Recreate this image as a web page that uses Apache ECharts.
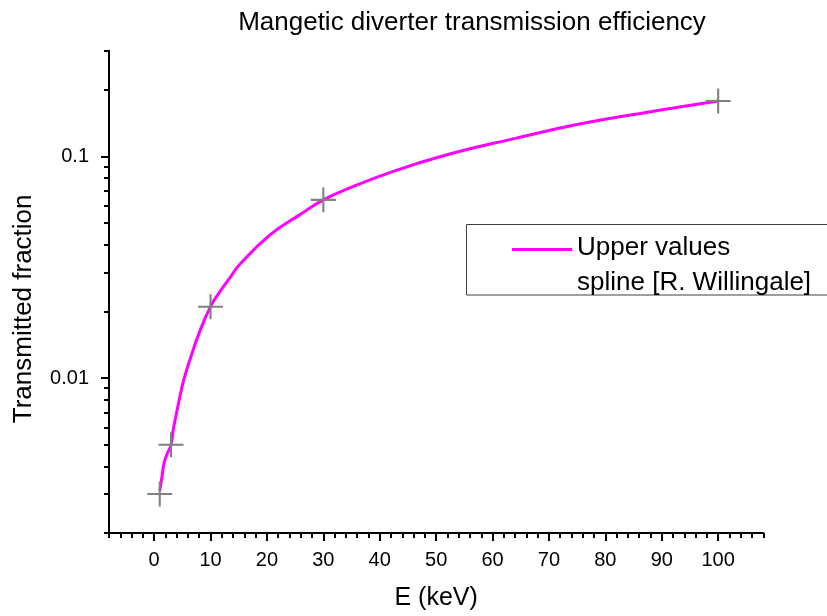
<!DOCTYPE html>
<html>
<head>
<meta charset="utf-8">
<script src="https://cdn.jsdelivr.net/npm/echarts@6/dist/echarts.min.js"></script>
<style>html,body{margin:0;padding:0;background:#fff}#c{width:827px;height:616px}</style>
</head>
<body>
<div id="c"></div>
<script>
// measured points (E in keV, transmitted fraction)
const pointsE = [1, 3, 10, 30, 100];
const pointsT = [0.0030, 0.0050, 0.021, 0.0637, 0.178];
// spline curve
const splineE = [1, 1.4, 1.83, 2.4, 3, 3.42, 4, 4.6, 5.2, 6.4, 8, 10, 11.7, 13.5, 15.2, 20.5, 25.8, 30, 34.7, 42.4, 52.4, 64.2, 75.4, 87.2, 100];
const splineT = [0.0031, 0.0036, 0.0042, 0.0046, 0.0050, 0.0059, 0.0070, 0.0083, 0.0097, 0.0122, 0.0160, 0.021, 0.0246, 0.0285, 0.0326, 0.0442, 0.0545, 0.0637, 0.0721, 0.0857, 0.1025, 0.121, 0.140, 0.158, 0.178];
// ticks
const xMajorTicks = [0, 10, 20, 30, 40, 50, 60, 70, 80, 90, 100];
const xMinorTicks = [-8,-6,-4,-2,0,2,4,6,8,10,12,14,16,18,20,22,24,26,28,30,32,34,36,38,40,42,44,46,48,50,52,54,56,58,60,62,64,66,68,70,72,74,76,78,80,82,84,86,88,90,92,94,96,98,100,102,104,106,108];
const yMajorTicks = [0.01, 0.1];
const yMinorTicks = [0.002,0.003,0.004,0.005,0.006,0.007,0.008,0.009,0.02,0.03,0.04,0.05,0.06,0.07,0.08,0.09,0.2,0.3];
const yLabels = ['0.01', '0.1'];

const FONT = 'Liberation Sans, Arial, sans-serif';
const chart = echarts.init(document.getElementById('c'), null, {renderer: 'canvas'});
const zip = (a, b) => a.map((v, i) => [v, b[i]]);
const plusPath = 'path://M11,0 H13 V11 H24 V13 H13 V24 H11 V13 H0 V11 H11 Z';
const legendIcon = 'path://M0,0 H60 V3 H0 Z M0,34.95 H0.05 V35 H0 Z';

chart.setOption({
  animation: false,
  backgroundColor: '#fff',
  title: {
    text: 'Mangetic diverter transmission efficiency',
    left: 467, top: 5, textAlign: 'center',
    textStyle: {fontFamily: FONT, fontSize: 26, fontWeight: 'normal', color: '#000'}
  },
  grid: {left: 109, right: 63.7, top: 50.7, bottom: 81, containLabel: false},
  legend: {
    left: 512, top: 230.5, padding: 0,
    itemWidth: 60, itemHeight: 35, itemGap: 7,
    data: [{name: 'Upper values\nspline [R. Willingale]', icon: legendIcon}],
    textStyle: {fontFamily: FONT, fontSize: 26, color: '#000', lineHeight: 35}
  },
  graphic: [{
    type: 'rect', silent: true,
    shape: {x: 466.5, y: 224.5, width: 362, height: 70.5},
    style: {fill: 'none', stroke: '#404040', lineWidth: 1}
  }],
  xAxis: [{
    type: 'value', min: -8, max: 108, position: 'bottom',
    name: 'E (keV)', nameLocation: 'middle', nameGap: 53,
    nameTextStyle: {fontFamily: FONT, fontSize: 25, color: '#000'},
    axisLine: {show: true, onZero: false, lineStyle: {color: '#000', width: 2}},
    axisTick: {show: true, inside: false, length: 8, customValues: xMajorTicks, lineStyle: {color: '#000', width: 2}},
    axisLabel: {customValues: xMajorTicks, margin: 17, fontFamily: FONT, fontSize: 20, color: '#000'},
    splitLine: {show: false}
  }, {
    type: 'value', min: -8, max: 108, position: 'bottom',
    axisLine: {show: false, onZero: false},
    axisTick: {show: true, inside: false, length: 5, customValues: xMinorTicks, lineStyle: {color: '#000', width: 2}},
    axisLabel: {show: false},
    splitLine: {show: false}
  }],
  yAxis: [{
    type: 'log', logBase: 10, min: 0.002, max: 0.3, position: 'left',
    name: 'Transmitted fraction', nameLocation: 'middle', nameGap: 72,
    nameTextStyle: {fontFamily: FONT, fontSize: 26, color: '#000', padding: [0, 34, 0, 0]},
    axisLine: {show: true, onZero: false, lineStyle: {color: '#000', width: 2}},
    axisTick: {show: true, inside: false, length: 8, customValues: yMajorTicks, lineStyle: {color: '#000', width: 2}},
    axisLabel: {customValues: yMajorTicks, margin: 20, fontFamily: FONT, fontSize: 20, color: '#000',
      formatter: v => yLabels[yMajorTicks.findIndex(t => Math.abs(t - v) / t < 1e-6)] || ''},
    splitLine: {show: false}
  }, {
    type: 'log', logBase: 10, min: 0.002, max: 0.3, position: 'left',
    axisLine: {show: false, onZero: false},
    axisTick: {show: true, inside: false, length: 5, customValues: yMinorTicks, lineStyle: {color: '#000', width: 2}},
    axisLabel: {show: false},
    splitLine: {show: false}
  }],
  series: [{
    name: 'Upper values\nspline [R. Willingale]',
    type: 'line', xAxisIndex: 0, yAxisIndex: 0,
    data: zip(splineE, splineT),
    smooth: 0.45, showSymbol: false, symbol: 'none',
    lineStyle: {color: '#ff00ff', width: 3},
    itemStyle: {color: '#ff00ff'},
    z: 2
  }, {
    name: 'Upper values points',
    type: 'scatter', xAxisIndex: 0, yAxisIndex: 0,
    data: zip(pointsE, pointsT),
    symbol: plusPath, symbolSize: 25,
    itemStyle: {color: '#808080', opacity: 1},
    z: 3
  }]
});
</script>
</body>
</html>
